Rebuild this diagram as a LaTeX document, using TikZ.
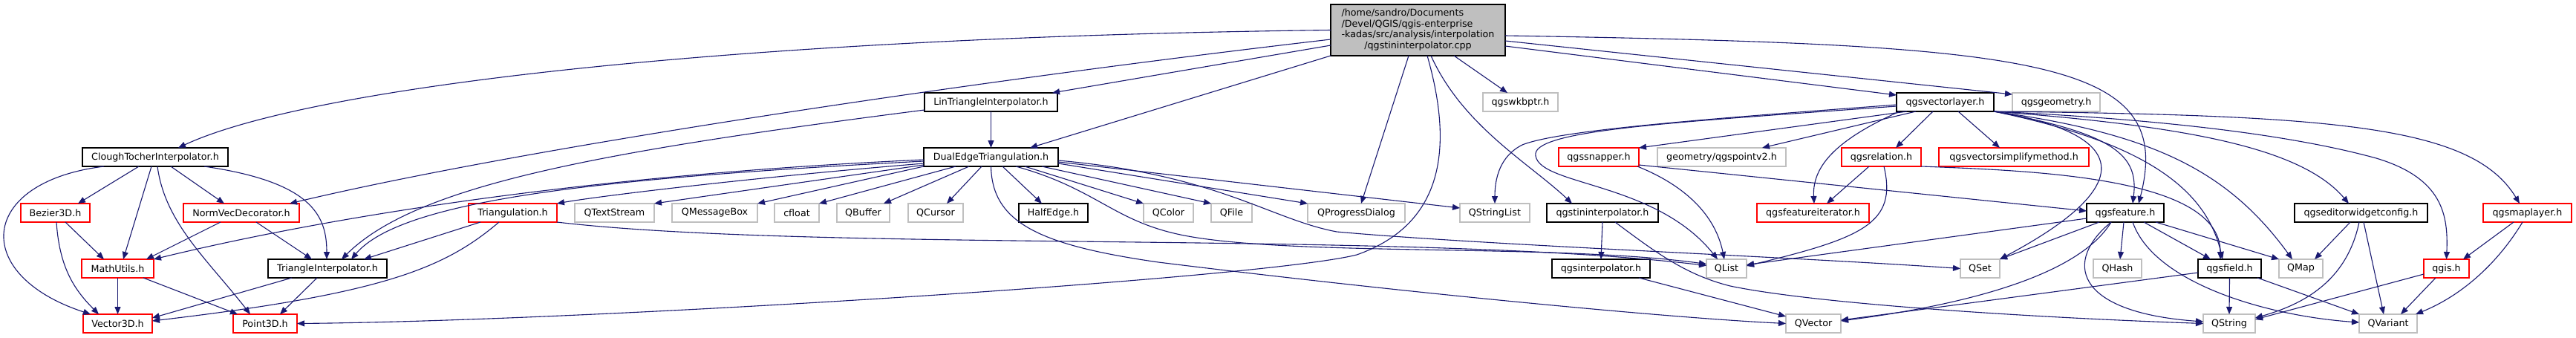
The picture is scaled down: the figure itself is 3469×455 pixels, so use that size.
\documentclass[tikz,border=0pt]{standalone}
\usepackage{fontspec}
\setmainfont{DejaVu Sans}
\usetikzlibrary{arrows.meta}
\definecolor{edgeblue}{HTML}{191970}
\definecolor{extgray}{HTML}{BFBFBF}
\definecolor{truncred}{HTML}{FF0000}

\begin{document}
\begin{tikzpicture}[
    x=1pt, y=-1pt,
    nodebox/.style={
        draw, rectangle, fill=white,
        inner sep=0pt, outer sep=0pt,
        minimum height=25pt, line width=1.3pt,
        font=\fontsize{12.7}{14.8}\selectfont
    },
    hdr/.style={nodebox, draw=black},
    trunc/.style={nodebox, draw=truncred},
    ext/.style={nodebox, draw=extgray},
    srcbox/.style={
        nodebox, draw=black, fill=extgray,
        minimum width=235pt, minimum height=69pt
    },
    dep/.style={
        -{Triangle[length=10pt, width=8pt]},
        color=edgeblue, line width=1.1pt
    }
]

\useasboundingbox (0,0) rectangle (3469,455);
\fill[white] (0,0) rectangle (3469,455);

\node[srcbox] (main) at (1909.5,40.5) {\begin{tabular}{@{}l@{}}
    /home/sandro/Documents\\
    /Devel/QGIS/qgis-enterprise\\
    -kadas/src/analysis/interpolation\\
    \multicolumn{1}{@{}c@{}}{/qgstininterpolator.cpp}
\end{tabular}};

\node[hdr, minimum width=179pt] (lintri) at (1334.5,137.5) {LinTriangleInterpolator.h};
\node[ext, minimum width=101pt] (wkbptr) at (2047.5,137.5) {qgswkbptr.h};
\node[hdr, minimum width=131pt] (vlayer) at (2619.5,137.5) {qgsvectorlayer.h};
\node[ext, minimum width=118pt] (geom) at (2769,137.5) {qgsgeometry.h};

\node[hdr, minimum width=196pt] (clough) at (209,211.5) {CloughTocherInterpolator.h};
\node[hdr, minimum width=181pt] (dualedge) at (1334.5,211.5) {DualEdgeTriangulation.h};
\node[trunc, minimum width=108pt] (snapper) at (2153,211.5) {qgssnapper.h};
\node[ext, minimum width=173pt] (pointv2) at (2318.5,211.5) {geometry/qgspointv2.h};
\node[trunc, minimum width=107pt] (relation) at (2533.5,211.5) {qgsrelation.h};
\node[trunc, minimum width=202pt] (simplify) at (2712,211.5) {qgsvectorsimplifymethod.h};

\node[trunc, minimum width=93pt] (bezier) at (74.5,286.5) {Bezier3D.h};
\node[trunc, minimum width=156pt] (normvec) at (325,286.5) {NormVecDecorator.h};
\node[trunc, minimum width=119pt] (triang) at (690.5,286.5) {Triangulation.h};
\node[ext, minimum width=107pt] (qtextstream) at (827.5,286.5) {QTextStream};
\node[ext, minimum width=115pt] (qmessagebox) at (962.5,286.5) {QMessageBox};
\node[ext, minimum width=60pt] (cfloat) at (1073,286.5) {cfloat};
\node[ext, minimum width=71pt] (qbuffer) at (1162.5,286.5) {QBuffer};
\node[ext, minimum width=74pt] (qcursor) at (1260,286.5) {QCursor};
\node[hdr, minimum width=93pt] (halfedge) at (1418.5,286.5) {HalfEdge.h};
\node[ext, minimum width=67pt] (qcolor) at (1573.5,286.5) {QColor};
\node[ext, minimum width=55pt] (qfile) at (1658.5,286.5) {QFile};
\node[ext, minimum width=131pt] (qprogress) at (1826.5,286.5) {QProgressDialog};
\node[ext, minimum width=94pt] (qstringlist) at (2013,286.5) {QStringList};
\node[hdr, minimum width=150pt] (tinh) at (2158,286.5) {qgstininterpolator.h};
\node[trunc, minimum width=151pt] (featiter) at (2441.5,286.5) {qgsfeatureiterator.h};
\node[hdr, minimum width=104pt] (feature) at (2862,286.5) {qgsfeature.h};
\node[hdr, minimum width=179pt] (edwconf) at (3179.5,286.5) {qgseditorwidgetconfig.h};
\node[trunc, minimum width=119pt] (maplayer) at (3403.5,286.5) {qgsmaplayer.h};

\node[trunc, minimum width=97pt] (mathutils) at (158.5,361.5) {MathUtils.h};
\node[hdr, minimum width=160pt] (triinterp) at (441,361.5) {TriangleInterpolator.h};
\node[hdr, minimum width=132pt] (interp) at (2156,361.5) {qgsinterpolator.h};
\node[ext, minimum width=54pt] (qlist) at (2325,361.5) {QList};
\node[ext, minimum width=53pt] (qset) at (2666.5,361.5) {QSet};
\node[ext, minimum width=65pt] (qhash) at (2851.5,361.5) {QHash};
\node[hdr, minimum width=85pt] (field) at (3002.5,361.5) {qgsfield.h};
\node[ext, minimum width=59pt] (qmap) at (3098.5,361.5) {QMap};
\node[trunc, minimum width=61pt] (qgis) at (3294.5,361.5) {qgis.h};

\node[trunc, minimum width=93pt] (vec3d) at (158.5,435.5) {Vector3D.h};
\node[trunc, minimum width=86pt] (pt3d) at (357,435.5) {Point3D.h};
\node[ext, minimum width=74pt] (qvector) at (2442,435.5) {QVector};
\node[ext, minimum width=70pt] (qstring) at (3002,435.5) {QString};
\node[ext, minimum width=78pt] (qvariant) at (3216,435.5) {QVariant};

\draw[dep] (main.west) .. controls (1000,50) and (420,115) .. ([xshift=31pt]clough.north);
\draw[dep] ([yshift=-12.5pt]main.west) .. controls (1300,110) and (700,200) .. ([xshift=65pt]normvec.north);
\draw[dep] ([yshift=-20.5pt]main.west) -- ([xshift=82.5pt]lintri.north);
\draw[dep] (main.south west) -- ([xshift=52.5pt]dualedge.north);
\draw[dep] ([xshift=12.5pt]main.south) .. controls (1955,190) and (1950,300) .. (1827,343)
    .. controls (1700,375) and (800,432) .. (pt3d.east);
\draw[dep] ([xshift=-12.5pt]main.south) -- ([xshift=6.5pt]qprogress.north);
\draw[dep] ([xshift=17.5pt]main.south) .. controls (1970,170) and (2060,220) .. ([xshift=-41pt]tinh.north);
\draw[dep] ([xshift=48.5pt]main.south) -- ([xshift=-17.5pt]wkbptr.north);
\draw[dep] ([yshift=-21.5pt]main.east) -- ([yshift=-3pt]vlayer.north west);
\draw[dep] ([yshift=-14.5pt]main.east) -- ([yshift=-2pt]geom.north west);
\draw[dep] ([yshift=-7.5pt]main.east) .. controls (2750,60) and (2930,80) .. ([xshift=18pt]feature.north);

\draw[dep] (lintri.south) -- (dualedge.north);
\draw[dep] ([yshift=-10.5pt]lintri.west) .. controls (800,205) and (560,250) .. ([xshift=19pt]triinterp.north);

\draw[dep] ([yshift=-3.5pt]dualedge.west) .. controls (800,235) and (450,290) .. (mathutils.north east);
\draw[dep] ([yshift=-5.5pt]dualedge.west) .. controls (800,240) and (540,270) .. ([xshift=32pt]triinterp.north);
\draw[dep] ([yshift=-8.5pt]dualedge.west) .. controls (1000,240) and (800,265) .. (triang.north east);
\draw[dep] ([yshift=-10.5pt]dualedge.west) -- (qtextstream.north east);
\draw[dep] (dualedge.south west) -- (qmessagebox.north east);
\draw[dep] ([xshift=-47.5pt]dualedge.south) -- (cfloat.north east);
\draw[dep] ([xshift=-29.5pt]dualedge.south) -- ([xshift=27.5pt]qbuffer.north);
\draw[dep] ([xshift=-12.5pt]dualedge.south) -- ([xshift=15pt]qcursor.north);
\draw[dep] ([xshift=15.5pt]dualedge.south) -- ([xshift=-15.5pt]halfedge.north);
\draw[dep] ([xshift=45.5pt]dualedge.south) -- (qcolor.north west);
\draw[dep] ([xshift=68.5pt]dualedge.south) -- (qfile.north west);
\draw[dep] ([yshift=-8.5pt]dualedge.east) -- (qprogress.north west);
\draw[dep] ([yshift=-6.5pt]dualedge.east) -- ([yshift=6.5pt]qstringlist.west);
\draw[dep] ([yshift=-4.5pt]dualedge.east) .. controls (1640,235) and (1710,295) .. (1800,312)
    .. controls (2000,330) and (2400,345) .. (qset.west);
\draw[dep] ([xshift=33.5pt]dualedge.south) .. controls (1480,255) and (1500,300) .. (1600,318)
    .. controls (1750,345) and (2100,328) .. ([yshift=6pt]qlist.west);
\draw[dep] (dualedge.south) .. controls (1336,300) and (1400,330) .. (1560,353)
    .. controls (1900,395) and (2250,428) .. (qvector.west);

\draw[dep] ([xshift=-22pt]clough.south) -- ([xshift=30.5pt]bezier.north);
\draw[dep] ([xshift=-5pt]clough.south) -- ([xshift=7.5pt]mathutils.north);
\draw[dep] ([xshift=3pt]clough.south) .. controls (222,300) and (280,350) .. ([xshift=-20pt]pt3d.north);
\draw[dep] ([xshift=21pt]clough.south) -- ([xshift=-23pt]normvec.north);
\draw[dep] ([xshift=66pt]clough.south) .. controls (420,245) and (440,290) .. ([xshift=-1pt]triinterp.north);
\draw[dep] ([xshift=-69pt]clough.south) .. controls (-30,245) and (-40,370) .. ([xshift=-36.5pt]vec3d.north);

\draw[dep] ([xshift=13.5pt]bezier.south) -- ([xshift=-18.5pt]mathutils.north);
\draw[dep] ([xshift=1.5pt]bezier.south) .. controls (80,360) and (100,390) .. ([xshift=-25.5pt]vec3d.north);
\draw[dep] ([xshift=-28pt]normvec.south) -- ([xshift=38.5pt]mathutils.north);
\draw[dep] ([xshift=20pt]normvec.south) -- ([xshift=-21pt]triinterp.north);
\draw[dep] (mathutils.south) -- (vec3d.north);
\draw[dep] ([xshift=34.5pt]mathutils.south) -- ([xshift=6pt]pt3d.north west);
\draw[dep] ([xshift=-48pt]triinterp.south) -- ([yshift=7.5pt]vec3d.east);
\draw[dep] ([xshift=-14pt]triinterp.south) -- ([xshift=20pt]pt3d.north);

\draw[dep] ([xshift=-43.5pt]triang.south) -- ([xshift=49pt]triinterp.north);
\draw[dep] ([xshift=-18.5pt]triang.south) .. controls (600,360) and (520,395) .. ([yshift=3.5pt]vec3d.east);
\draw[dep] (triang.south east) .. controls (1100,340) and (1900,310) .. ([yshift=4pt]qlist.west);

\draw[dep] ([yshift=-3.5pt]vlayer.west) .. controls (2300,160) and (2100,175) .. (2050,195)
    .. controls (2020,210) and (2013,240) .. (qstringlist.north);
\draw[dep] ([yshift=-5.5pt]vlayer.west) .. controls (2250,165) and (2060,175) .. (2068,210)
    .. controls (2075,250) and (2230,245) .. ([xshift=-12pt]qlist.north);
\draw[dep] ([xshift=-51.5pt]vlayer.south) -- (snapper.north east);
\draw[dep] ([xshift=-39.5pt]vlayer.south) -- ([xshift=54.5pt]pointv2.north);
\draw[dep] ([xshift=4pt]vlayer.south west) .. controls (2480,185) and (2440,220) .. ([xshift=1.5pt]featiter.north);
\draw[dep] ([xshift=-16.5pt]vlayer.south) -- ([xshift=19.5pt]relation.north);
\draw[dep] ([xshift=17.5pt]vlayer.south) -- ([xshift=-19pt]simplify.north);
\draw[dep] (vlayer.south east) .. controls (2870,180) and (2880,250) .. (qset.north east);
\draw[dep] (vlayer.south east) .. controls (2850,180) and (2880,210) .. ([xshift=10pt]feature.north);
\draw[dep] (vlayer.south east) .. controls (2880,190) and (2970,250) .. ([xshift=-9.5pt]field.north);
\draw[dep] (vlayer.south east) .. controls (2900,180) and (3000,230) .. ([xshift=-11.5pt]qmap.north);
\draw[dep] (vlayer.south east) .. controls (2950,170) and (3100,200) .. ([xshift=-16.5pt]edwconf.north);
\draw[dep] (vlayer.south east) .. controls (2900,160) and (3080,180) .. (3200,213)
    .. controls (3290,240) and (3297,290) .. (qgis.north);
\draw[dep] (vlayer.south east) .. controls (3150,155) and (3330,170) .. ([xshift=-10.5pt]maplayer.north);

\draw[dep] ([xshift=-2pt]snapper.south east) .. controls (2270,250) and (2310,290) .. ([xshift=-3pt]qlist.north);
\draw[dep] ([yshift=-10.5pt]snapper.east) -- ([yshift=2.5pt]feature.west);
\draw[dep] ([xshift=-16.5pt]relation.south) -- ([xshift=18.5pt]featiter.north);
\draw[dep] ([xshift=3.5pt]relation.south) .. controls (2555,300) and (2510,320) .. ([yshift=3.5pt]qlist.east);
\draw[dep] (relation.south east) .. controls (2750,230) and (2990,240) .. ([xshift=-12.5pt]field.north);

\draw[dep] (tinh.south) -- (interp.north);
\draw[dep] ([xshift=17pt]tinh.south) .. controls (2230,340) and (2270,370) .. (2330,385)
    .. controls (2450,410) and (2750,428) .. (qstring.west);
\draw[dep] ([xshift=51pt]interp.south) -- ([yshift=-3pt]qvector.north west);

\draw[dep] ([yshift=-7.5pt]feature.west) -- ([yshift=5pt]qlist.east);
\draw[dep] ([xshift=-35pt]feature.south) -- (qset.north east);
\draw[dep] ([xshift=-19pt]feature.south) .. controls (2800,370) and (2650,410) .. ([yshift=3.5pt]qvector.east);
\draw[dep] ([xshift=-19pt]feature.south) .. controls (2780,350) and (2790,420) .. ([yshift=2.5pt]qstring.west);
\draw[dep] ([xshift=-2pt]feature.south) -- ([xshift=3.5pt]qhash.north);
\draw[dep] ([xshift=25pt]feature.south) -- ([xshift=-25.5pt]field.north);
\draw[dep] ([xshift=41pt]feature.south) -- (qmap.north west);
\draw[dep] ([xshift=10pt]feature.south) .. controls (2900,380) and (3050,425) .. ([yshift=1.5pt]qvariant.west);

\draw[dep] (field.south) -- (qstring.north);
\draw[dep] ([xshift=-5pt]field.south east) -- (qvariant.north west);
\draw[dep] ([yshift=-5.5pt]field.west) -- ([yshift=4.5pt]qvector.east);

\draw[dep] ([xshift=-14.5pt]edwconf.south) -- ([xshift=18.5pt]qmap.north);
\draw[dep] ([xshift=-2.5pt]edwconf.south) .. controls (3160,380) and (3100,410) .. ([yshift=7.5pt]qstring.east);
\draw[dep] ([xshift=3.5pt]edwconf.south) -- ([xshift=-6pt]qvariant.north);

\draw[dep] ([yshift=-7.5pt]qgis.west) -- ([yshift=5.5pt]qstring.east);
\draw[dep] ([xshift=-14.5pt]qgis.south) -- ([xshift=17pt]qvariant.north);
\draw[dep] ([xshift=-18.5pt]maplayer.south) -- ([xshift=22.5pt]qgis.north);
\draw[dep] ([xshift=-6.5pt]maplayer.south) .. controls (3360,360) and (3310,400) .. ([xshift=-2pt]qvariant.north east);

\end{tikzpicture}
\end{document}
